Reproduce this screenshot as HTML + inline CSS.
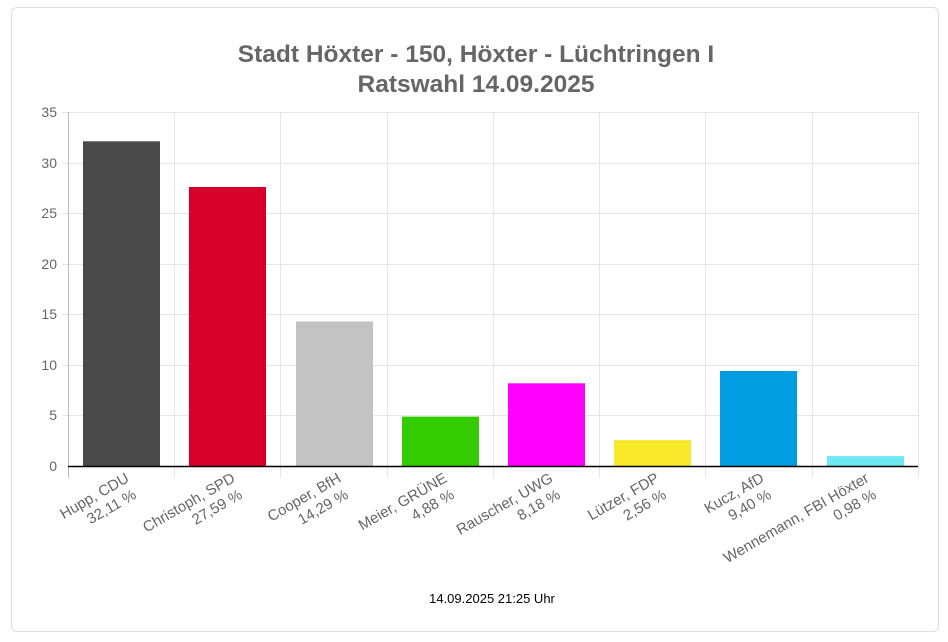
<!DOCTYPE html>
<html><head><meta charset="utf-8"><style>
body{margin:0;background:#fff;width:948px;height:642px;overflow:hidden}
.card{position:absolute;left:11px;top:7px;width:928px;height:625px;border:1px solid #ddd;border-radius:6px;box-sizing:border-box}
svg{position:absolute;left:0;top:0}
text{font-family:"Liberation Sans",sans-serif}
</style></head><body>
<div class="card"></div>
<svg width="948" height="642">
<text x="476" y="62" text-anchor="middle" font-size="24.5" font-weight="bold" fill="#666">Stadt Höxter - 150, Höxter - Lüchtringen I</text>
<text x="476" y="92" text-anchor="middle" font-size="24.5" font-weight="bold" fill="#666">Ratswahl 14.09.2025</text>
<g stroke="#e5e5e5" stroke-width="1">
<line x1="62" y1="112.5" x2="918" y2="112.5"/>
<line x1="62" y1="163.5" x2="918" y2="163.5"/>
<line x1="62" y1="213.5" x2="918" y2="213.5"/>
<line x1="62" y1="264.5" x2="918" y2="264.5"/>
<line x1="62" y1="314.5" x2="918" y2="314.5"/>
<line x1="62" y1="365.5" x2="918" y2="365.5"/>
<line x1="62" y1="415.5" x2="918" y2="415.5"/>
<line x1="174.5" y1="112" x2="174.5" y2="478"/>
<line x1="280.5" y1="112" x2="280.5" y2="478"/>
<line x1="387.5" y1="112" x2="387.5" y2="478"/>
<line x1="493.5" y1="112" x2="493.5" y2="478"/>
<line x1="599.5" y1="112" x2="599.5" y2="478"/>
<line x1="705.5" y1="112" x2="705.5" y2="478"/>
<line x1="812.5" y1="112" x2="812.5" y2="478"/>
<line x1="918.5" y1="112" x2="918.5" y2="478"/>
</g>
<line x1="68.5" y1="112" x2="68.5" y2="478" stroke="#bbb"/>
<g font-size="14" fill="#666" text-anchor="end">
<text x="57" y="117">35</text><text x="57" y="168">30</text><text x="57" y="218">25</text><text x="57" y="269">20</text><text x="57" y="319">15</text><text x="57" y="370">10</text><text x="57" y="420">5</text><text x="57" y="471">0</text>
</g>
<rect x="83" y="141.3" width="77" height="324.7" fill="#4a4a4a"/>
<rect x="189" y="187" width="77" height="279" fill="#d7002a"/>
<rect x="296" y="321.5" width="77" height="144.5" fill="#c3c3c3"/>
<rect x="402" y="416.6" width="77" height="49.4" fill="#33cc00"/>
<rect x="508" y="383.3" width="77" height="82.7" fill="#ff00ff"/>
<rect x="614" y="440.1" width="77" height="25.9" fill="#f8ea2a"/>
<rect x="720" y="371" width="77" height="95" fill="#009ee0"/>
<rect x="827" y="456.1" width="77" height="9.9" fill="#6ee8f0"/>
<line x1="68" y1="466.5" x2="918" y2="466.5" stroke="#000" stroke-width="1.5"/>
<g font-size="15" fill="#666" text-anchor="end">
<g transform="translate(130,481) rotate(-30)"><text>Hupp, CDU</text><text x="-2" y="18">32,11 %</text></g>
<g transform="translate(236,481) rotate(-30)"><text>Christoph, SPD</text><text x="-2" y="18">27,59 %</text></g>
<g transform="translate(342,481) rotate(-30)"><text>Cooper, BfH</text><text x="-2" y="18">14,29 %</text></g>
<g transform="translate(448,481) rotate(-30)"><text>Meier, GRÜNE</text><text x="-2" y="18">4,88 %</text></g>
<g transform="translate(554,481) rotate(-30)"><text>Rauscher, UWG</text><text x="-2" y="18">8,18 %</text></g>
<g transform="translate(660,481) rotate(-30)"><text>Lützer, FDP</text><text x="-2" y="18">2,56 %</text></g>
<g transform="translate(765,481) rotate(-30)"><text>Kucz, AfD</text><text x="-2" y="18">9,40 %</text></g>
<g transform="translate(870,481) rotate(-30)"><text>Wennemann, FBI Höxter</text><text x="-2" y="18">0,98 %</text></g>
</g>
<text x="492" y="603" text-anchor="middle" font-size="13" fill="#000">14.09.2025 21:25 Uhr</text>
</svg>
</body></html>
